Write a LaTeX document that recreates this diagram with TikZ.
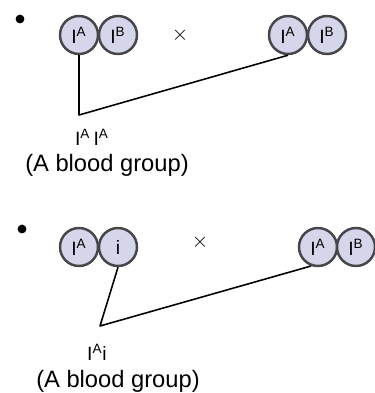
\documentclass[tikz,border=0pt]{standalone}
\usepackage{fontspec}
\setmainfont{Liberation Sans}
\definecolor{allelefill}{RGB}{214,214,234}
\definecolor{alleleline}{RGB}{70,70,75}
\begin{document}
\begin{tikzpicture}[x=0.02cm,y=-0.02cm,
    allele/.style={circle,draw=alleleline,line width=1.4pt,fill=allelefill,
        minimum size=0.76cm,inner sep=0pt,font=\fontsize{11}{12}\selectfont},
    cross/.style={line width=0.9pt,line join=round}]
    \useasboundingbox (0,0) rectangle (375,393);
    % first cross
    \fill (20,19) circle (2.5pt);
    \node[allele] (a1) at (79,35) {I$^{\mathrm{A}}$};
    \node[allele] (b1) at (118,35) {I$^{\mathrm{B}}$};
    \node (x1) at (180,35) {\fontsize{12}{12}\selectfont$\times$};
    \node[allele] (c1) at (288,35) {I$^{\mathrm{A}}$};
    \node[allele] (d1) at (327,35) {I$^{\mathrm{B}}$};
    \coordinate (k1) at (79,115);
    \draw[cross] (a1.south)--(k1)--(c1.south);
    \node[font=\fontsize{11}{12}\selectfont] (g1) at (92,137) {I$^{\mathrm{A}}$\,I$^{\mathrm{A}}$};
    \node[font=\fontsize{13.5}{15}\selectfont] (p1) at (107,165) {(A blood group)};
    % second cross
    \fill (22,229) circle (2.5pt);
    \node[allele] (a2) at (79,247) {I$^{\mathrm{A}}$};
    \node[allele] (b2) at (118,247) {i};
    \node (x2) at (200,242) {\fontsize{12}{12}\selectfont$\times$};
    \node[allele] (c2) at (318,247) {I$^{\mathrm{A}}$};
    \node[allele] (d2) at (356,247) {I$^{\mathrm{B}}$};
    \coordinate (k2) at (100,326);
    \draw[cross] (b2.south)--(k2)--(c2.-110);
    \node[font=\fontsize{11}{12}\selectfont] (g2) at (97,352) {I$^{\mathrm{A}}$i};
    \node[font=\fontsize{13.5}{15}\selectfont] (p2) at (118,381) {(A blood group)};
\end{tikzpicture}
\end{document}
